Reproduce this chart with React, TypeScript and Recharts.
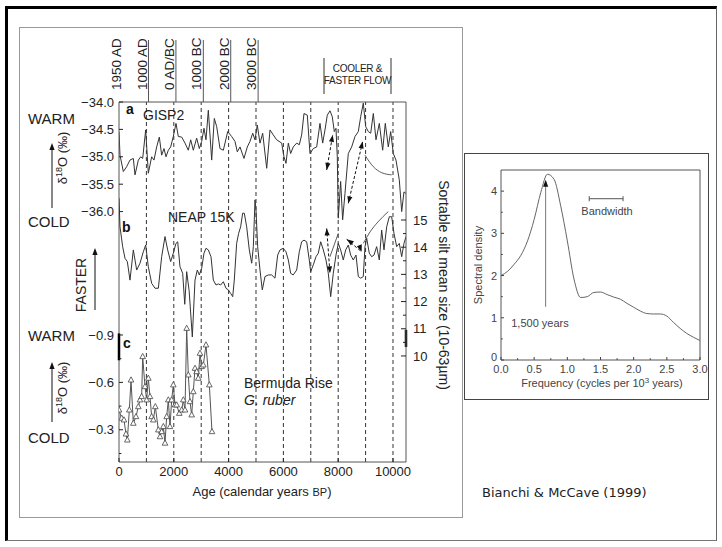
import {
  ComposedChart,
  LineChart,
  Line,
  XAxis,
  YAxis,
  ReferenceLine,
  ReferenceDot,
} from "recharts";

const W = 722;
const H = 547;
const FONT = '"Liberation Sans", Arial, Helvetica, sans-serif';
const INK = "#222";
const AXIS = "#555";

// plot box of the core panel, in page pixels
const PL = 119;
const PR = 406;
const PT = 102;
const PB = 462;

// a: GISP2 ice core δ18O (‰) against age (calendar years BP)
const gispAge = [
  0, 36, 158, 280, 400, 523, 584, 706, 792, 864, 974, 1070, 1192, 1277, 1375,
  1472, 1557, 1642, 1715, 1800, 1886, 1982, 2080, 2165, 2288, 2409, 2529, 2617,
  2712, 2835, 2931, 3017, 3102, 3175, 3260, 3383, 3478, 3566, 3686, 3808, 3967,
  4112, 4234, 4318, 4416, 4562, 4683, 4781, 4880, 4964, 5047, 5146, 5244, 5391,
  5511, 5631, 5755, 5937, 6022, 6095, 6180, 6265, 6360, 6485, 6580, 6667, 6752,
  6873, 6971, 7091, 7215, 7336, 7434, 7518, 7602, 7701, 7785, 7858, 7920, 7967,
  8004, 8090, 8163, 8248, 8369, 8492, 8613, 8734, 8821, 8916, 9004, 9100, 9186,
  9282, 9380, 9501, 9624, 9719, 9829, 9916, 10011, 10109, 10230, 10318, 10401,
  10474,
];
const gispD18O = [
  -34.54, -34.97, -35.27, -35.18, -35.06, -35.03, -35.33, -35.06, -35.0, -35.03,
  -34.51, -35.3, -35.0, -35.06, -34.82, -34.64, -34.97, -34.85, -35.0, -34.88,
  -34.82, -34.63, -34.39, -34.63, -34.64, -34.75, -34.88, -34.69, -34.88, -34.66,
  -34.85, -34.72, -34.48, -34.69, -34.15, -35.06, -34.3, -34.45, -34.85, -34.88,
  -34.54, -34.63, -34.72, -34.91, -34.82, -35.03, -34.82, -34.72, -34.57, -34.69,
  -34.42, -34.75, -34.57, -35.21, -34.51, -34.6, -34.69, -34.75, -35.0, -35.12,
  -34.75, -34.94, -34.82, -34.75, -34.78, -34.6, -34.21, -34.24, -34.94, -34.85,
  -34.82, -34.39, -34.75, -34.51, -34.24, -34.16, -34.27, -34.54, -34.48, -35.0,
  -36.12, -35.45, -36.15, -35.67, -34.94, -34.82, -34.63, -34.54, -34.27, -34.02,
  -34.45, -34.54, -34.57, -34.21, -34.69, -34.39, -34.88, -34.39, -34.82, -34.54,
  -34.94, -35.06, -35.42, -36.0, -35.64, -35.67,
];

// b: NEAP 15K sortable silt mean size (µm)
const neapAge = [
  0, 36, 134, 219, 304, 401, 523, 645, 766, 887, 974, 1070, 1192, 1314, 1436,
  1557, 1679, 1776, 1886, 1982, 2080, 2142, 2226, 2324, 2400, 2470, 2560, 2676,
  2774, 2858, 2931, 3017, 3102, 3175, 3260, 3358, 3443, 3540, 3625, 3711, 3808,
  3905, 3990, 4076, 4150, 4208, 4294, 4367, 4440, 4513, 4574, 4660, 4756, 4843,
  4903, 4964, 5000, 5061, 5146, 5230, 5328, 5450, 5572, 5693, 5791, 5876, 5996,
  6095, 6180, 6265, 6360, 6485, 6580, 6667, 6752, 6850, 6945, 6996, 7091, 7190,
  7274, 7361, 7458, 7555, 7639, 7726, 7821, 7920, 8004, 8090, 8186, 8273, 8369,
  8456, 8551, 8650, 8734, 8821, 8916, 8978, 9040, 9135, 9222, 9307, 9404, 9501,
  9587, 9672, 9770, 9865, 9953, 10036, 10135, 10230, 10318, 10401, 10474,
];
const neapSilt = [
  15.8, 14.75, 14.02, 13.59, 13.47, 12.79, 13.9, 13.16, 13.41, 13.83, 14.08,
  13.28, 12.67, 12.49, 12.49, 13.65, 14.39, 13.9, 13.47, 13.78, 14.14, 14.2,
  13.28, 13.04, 11.9, 13.1, 12.4, 10.7, 12.79, 13.16, 12.98, 13.22, 13.78, 13.96,
  13.9, 13.65, 12.79, 12.61, 12.65, 12.61, 12.73, 12.49, 12.43, 12.3, 12.18,
  12.79, 14.14, 14.51, 14.75, 15.25, 15.25, 14.75, 13.9, 13.41, 14.02, 15.74,
  15.37, 14.02, 13.16, 12.43, 12.92, 12.98, 12.98, 12.86, 13.71, 13.9, 13.96,
  13.83, 13.53, 13.04, 12.98, 13.16, 13.83, 14.2, 14.26, 14.2, 13.53, 13.1, 13.35,
  13.65, 13.78, 14.2, 13.9, 13.53, 13.04, 12.18, 13.04, 13.71, 14.14, 13.9, 13.53,
  13.9, 14.08, 13.71, 13.53, 13.71, 12.92, 12.86, 12.92, 14.02, 14.33, 13.78,
  13.65, 13.71, 14.02, 13.53, 14.63, 13.9, 14.75, 15.12, 15.12, 14.51, 14.02,
  14.14, 13.65, 14.14, 14.39,
];

// c: Bermuda Rise G. ruber δ18O (‰)
const bermAge = [
  0, 97, 182, 255, 304, 377, 438, 523, 620, 706, 766, 827, 864, 949, 1010, 1070,
  1131, 1192, 1253, 1326, 1436, 1496, 1557, 1618, 1679, 1740, 1800, 1861, 1922,
  1982, 2044, 2105, 2201, 2288, 2347, 2409, 2470, 2530, 2591, 2653, 2712, 2774,
  2835, 2894, 2956, 3017, 3077, 3175, 3297, 3394,
];
const bermD18O = [
  -0.425, -0.373, -0.362, -0.273, -0.235, -0.425, -0.615, -0.341, -0.383,
  -0.446, -0.489, -0.51, -0.763, -0.573, -0.489, -0.626, -0.51, -0.383, -0.362,
  -0.446, -0.299, -0.256, -0.288, -0.32, -0.215, -0.383, -0.489, -0.32, -0.489,
  -0.584, -0.457, -0.457, -0.404, -0.425, -0.489, -0.425, -0.942, -0.647,
  -0.478, -0.394, -0.541, -0.689, -0.668, -0.626, -0.784, -0.7, -0.71, -0.837,
  -0.584, -0.288,
];

// smooth trend curves sketched over the 8-10 ka interval
const gispTrendAge = [8978, 9281, 9588, 9953];
const gispTrendVal = [-34.97, -35.18, -35.29, -35.33];
const siltTrendAge = [8916, 9161, 9453, 9828];
const siltTrendVal = [14.14, 14.56, 14.93, 15.31];
const siltStubAge = [7700, 8004];
const siltStubVal = [13.65, 14.51];

// spectrum of the combined record
const freq = [
  0, 0.1, 0.2, 0.3, 0.4, 0.5, 0.6, 0.7, 0.8, 0.9, 1.0, 1.1, 1.2, 1.3, 1.4, 1.5,
  1.6, 1.7, 1.8, 1.9, 2.0, 2.1, 2.2, 2.3, 2.4, 2.5, 2.6, 2.7, 2.8, 2.9, 3.0,
];
const density = [
  2.0, 2.1, 2.27, 2.48, 2.82, 3.33, 3.97, 4.4, 4.28, 3.65, 2.82, 1.92, 1.48, 1.5,
  1.6, 1.61, 1.55, 1.49, 1.44, 1.34, 1.25, 1.16, 1.1, 1.09, 1.09, 1.04, 0.89,
  0.75, 0.63, 0.54, 0.46,
];

// axis ticks and labels
const ageTicks = [0, 2000, 4000, 6000, 8000, 10000];
const ageLines = [1000, 2000, 3000, 4000, 5000, 6000, 7000, 8000, 9000, 10000];
const calAges = [0, 950, 1950, 2950, 3950, 4950];
const calLabels = ["1950 AD", "1000 AD", "0 AD/BC", "1000 BC", "2000 BC", "3000 BC"];
const gispTicks = [-36, -35.5, -35, -34.5, -34];
const siltTicks = [10, 10.5, 11, 11.5, 12, 12.5, 13, 13.5, 14, 14.5, 15];
const bermTicks = [-0.9, -0.75, -0.6, -0.45, -0.3, -0.15];
const freqTicks = [0, 0.25, 0.5, 0.75, 1, 1.25, 1.5, 1.75, 2, 2.25, 2.5, 2.75, 3];
const densTicks = [0, 0.5, 1, 1.5, 2, 2.5, 3, 3.5, 4];

const AGE_DOMAIN: [number, number] = [0, 10475];
const GISP_DOMAIN: [number, number] = [-40.57, -34];
const SILT_DOMAIN: [number, number] = [6.1, 19.34];
const BERM_DOMAIN: [number, number] = [-2.375, -0.096];

const pairs = (xs: number[], ys: number[]) => xs.map((age, i) => ({ age, v: ys[i] }));
const gisp = pairs(gispAge, gispD18O);
const neap = pairs(neapAge, neapSilt);
const berm = pairs(bermAge, bermD18O);
const gispTrend = pairs(gispTrendAge, gispTrendVal);
const siltTrend = pairs(siltTrendAge, siltTrendVal);
const siltStub = pairs(siltStubAge, siltStubVal);
const spectrum = freq.map((f, i) => ({ f, d: density[i] }));

const minus = (v: number, d: number) => (v < 0 ? "\u2212" : "") + Math.abs(v).toFixed(d);

type TickSpec = {
  side: "left" | "right" | "bottom";
  gap: number;
  len: number;
  size: number;
  color: string;
  shift?: number;
  label: (v: number) => string | null;
};

// ticks point into the plot, labels stay outside
const inwardTick = (s: TickSpec) => (p: any) => {
  const v: number = p.payload.value;
  const txt = s.label(v);
  const len = txt === null ? s.len * 0.6 : s.len;
  const t = { fontSize: s.size, fill: s.color, fontFamily: FONT };
  const sh = s.shift ?? 0;
  if (s.side === "left") {
    const ax = p.x + s.gap;
    return (
      <g>
        <line x1={ax} x2={ax + len} y1={p.y} y2={p.y} stroke={s.color} />
        {txt !== null && (
          <text x={p.x} y={p.y + (v === 0 ? sh : 0)} dy="0.36em" textAnchor="end" {...t}>
            {txt}
          </text>
        )}
      </g>
    );
  }
  if (s.side === "right") {
    const ax = p.x - s.gap;
    return (
      <g>
        <line x1={ax} x2={ax - len} y1={p.y} y2={p.y} stroke={s.color} />
        {txt !== null && (
          <text x={p.x} y={p.y} dy="0.36em" textAnchor="start" {...t}>
            {txt}
          </text>
        )}
      </g>
    );
  }
  const ay = p.y - s.gap;
  return (
    <g>
      <line x1={p.x} x2={p.x} y1={ay} y2={ay - len} stroke={s.color} />
      {txt !== null && (
        <text x={p.x} y={p.y + sh} dy="0.8em" textAnchor="middle" {...t}>
          {txt}
        </text>
      )}
    </g>
  );
};

const gispTick = inwardTick({ side: "left", gap: 5, len: 4, size: 13, color: INK, label: (v) => minus(v, 1) });
const bermTick = inwardTick({
  side: "left",
  gap: 5,
  len: 4,
  size: 13,
  color: INK,
  label: (v) => (Math.round(v * 100) % 30 === 0 ? minus(v, 1) : null),
});
const siltTick = inwardTick({
  side: "right",
  gap: 7,
  len: 5,
  size: 13,
  color: INK,
  label: (v) => (Number.isInteger(v) ? String(v) : null),
});
const ageTick = inwardTick({ side: "bottom", gap: 4, len: 4, size: 13, color: INK, label: (v) => String(v) });
const freqTick = inwardTick({
  side: "bottom",
  gap: 3,
  len: 3,
  size: 11,
  color: "#444",
  shift: 1,
  label: (v) => (Math.round(v * 100) % 50 === 0 ? v.toFixed(1) : null),
});
const densTick = inwardTick({
  side: "left",
  gap: 4,
  len: 3,
  size: 11,
  color: "#444",
  shift: -3,
  label: (v) => (Number.isInteger(v) ? String(v) : null),
});

// calendar ages written up along the top edge, each with its own short rule
const calendarMark = (i: number) => (p: any) => (
  <g>
    {i > 0 && <line x1={p.cx + 3.5} x2={p.cx + 3.5} y1={p.cy} y2={p.cy - 62} stroke="#555" />}
    <text
      transform={`translate(${p.cx + 1.5},${p.cy - 12}) rotate(-90)`}
      fontSize={13.5}
      fill={INK}
      fontFamily={FONT}
    >
      {calLabels[i]}
    </text>
  </g>
);

const head = (deg: number) => (p: any) => (
  <polygon
    points="0,0 -2.6,7 2.6,7"
    fill="#111"
    transform={`translate(${p.cx},${p.cy}) rotate(${deg})`}
  />
);

const Triangle = (p: any) => (
  <polygon
    key={p.index}
    points={`${p.cx},${p.cy - 3.2} ${p.cx - 2.8},${p.cy + 2} ${p.cx + 2.8},${p.cy + 2}`}
    fill="#fff"
    stroke="#444"
    strokeWidth={0.8}
  />
);

const layer: React.CSSProperties = { position: "absolute", left: 0, top: 0 };
const dashed = { stroke: "#111", strokeDasharray: "3 2", ifOverflow: "visible" as const };

export default function App() {
  return (
    <div
      style={{
        position: "absolute",
        left: 0,
        top: 0,
        width: W,
        height: H,
        background: "#fff",
        overflow: "hidden",
        fontFamily: FONT,
      }}
    >
      <div
        style={{
          position: "absolute",
          left: 5,
          top: 6,
          width: 712,
          height: 535,
          boxSizing: "border-box",
          borderTop: "3px solid #000",
          borderLeft: "3px solid #000",
          borderRight: "1px solid #666",
          borderBottom: "1px solid #777",
        }}
      />
      <div
        style={{
          position: "absolute",
          left: 19,
          top: 27,
          width: 444,
          height: 491,
          boxSizing: "border-box",
          border: "1px solid #999",
        }}
      />
      <div
        style={{
          position: "absolute",
          left: 464,
          top: 153,
          width: 245,
          height: 247,
          boxSizing: "border-box",
          border: "1px solid #444",
        }}
      />

      {/* a: GISP2 */}
      <div style={layer}>
        <ComposedChart width={W} height={H} margin={{ top: PT, right: W - PR, bottom: H - PB, left: PL - 40 }}>
          <XAxis xAxisId="age" type="number" dataKey="age" domain={AGE_DOMAIN} hide allowDataOverflow />
          <YAxis
            yAxisId="a"
            type="number"
            width={40}
            domain={GISP_DOMAIN}
            ticks={gispTicks}
            interval={0}
            tickSize={0}
            tickMargin={5}
            tickLine={false}
            axisLine={{ stroke: AXIS }}
            tick={gispTick}
            allowDataOverflow
          />
          {ageLines.map((x) => (
            <ReferenceLine key={x} xAxisId="age" yAxisId="a" x={x} stroke="#333" strokeDasharray="4 3" />
          ))}
          <ReferenceLine xAxisId="age" yAxisId="a" y={-34} stroke={AXIS} />
          {calAges.map((age, i) => (
            <ReferenceDot
              key={age}
              xAxisId="age"
              yAxisId="a"
              x={age}
              y={-34}
              ifOverflow="visible"
              shape={calendarMark(i)}
            />
          ))}
          <Line
            xAxisId="age"
            yAxisId="a"
            data={gisp}
            dataKey="v"
            type="linear"
            stroke="#333"
            strokeWidth={1}
            dot={false}
            isAnimationActive={false}
          />
          <Line
            xAxisId="age"
            yAxisId="a"
            data={gispTrend}
            dataKey="v"
            type="monotone"
            stroke="#333"
            strokeWidth={0.8}
            dot={false}
            isAnimationActive={false}
          />
          <ReferenceLine xAxisId="age" yAxisId="a" segment={[{ x: 7580, y: -35.24 }, { x: 7800, y: -34.6 }]} {...dashed} />
          <ReferenceDot xAxisId="age" yAxisId="a" x={7800} y={-34.6} ifOverflow="visible" shape={head(10)} />
          <ReferenceDot xAxisId="age" yAxisId="a" x={7580} y={-35.24} ifOverflow="visible" shape={head(190)} />
          <ReferenceLine xAxisId="age" yAxisId="a" segment={[{ x: 8369, y: -35.85 }, { x: 8894, y: -34.72 }]} {...dashed} />
          <ReferenceDot xAxisId="age" yAxisId="a" x={8894} y={-34.72} ifOverflow="visible" shape={head(13)} />
          <ReferenceDot xAxisId="age" yAxisId="a" x={8369} y={-35.85} ifOverflow="visible" shape={head(193)} />
        </ComposedChart>
      </div>

      {/* b: NEAP 15K sortable silt */}
      <div style={layer}>
        <ComposedChart width={W} height={H} margin={{ top: PT, right: W - PR - 30, bottom: H - PB, left: PL }}>
          <XAxis xAxisId="age" type="number" dataKey="age" domain={AGE_DOMAIN} hide allowDataOverflow />
          <YAxis
            yAxisId="s"
            orientation="right"
            type="number"
            width={30}
            domain={SILT_DOMAIN}
            ticks={siltTicks}
            interval={0}
            tickSize={0}
            tickMargin={7}
            tickLine={false}
            axisLine={{ stroke: AXIS }}
            tick={siltTick}
            allowDataOverflow
          />
          <ReferenceLine
            xAxisId="age"
            yAxisId="s"
            segment={[{ x: 10475, y: 10.96 }, { x: 10475, y: 10.33 }]}
            stroke="#000"
            strokeWidth={2.5}
            ifOverflow="visible"
          />
          <Line
            xAxisId="age"
            yAxisId="s"
            data={neap}
            dataKey="v"
            type="linear"
            stroke="#333"
            strokeWidth={1}
            dot={false}
            isAnimationActive={false}
          />
          <Line
            xAxisId="age"
            yAxisId="s"
            data={siltTrend}
            dataKey="v"
            type="monotone"
            stroke="#333"
            strokeWidth={0.8}
            dot={false}
            isAnimationActive={false}
          />
          <Line
            xAxisId="age"
            yAxisId="s"
            data={siltStub}
            dataKey="v"
            type="linear"
            stroke="#333"
            strokeWidth={0.8}
            dot={false}
            isAnimationActive={false}
          />
          <ReferenceLine xAxisId="age" yAxisId="s" segment={[{ x: 7580, y: 14.69 }, { x: 7700, y: 13.04 }]} {...dashed} />
          <ReferenceDot xAxisId="age" yAxisId="s" x={7580} y={14.69} ifOverflow="visible" shape={head(-4)} />
          <ReferenceDot xAxisId="age" yAxisId="s" x={7700} y={13.04} ifOverflow="visible" shape={head(176)} />
          <ReferenceLine xAxisId="age" yAxisId="s" segment={[{ x: 8310, y: 14.29 }, { x: 8858, y: 13.83 }]} {...dashed} />
          <ReferenceDot xAxisId="age" yAxisId="s" x={8310} y={14.29} ifOverflow="visible" shape={head(-55)} />
          <ReferenceDot xAxisId="age" yAxisId="s" x={8858} y={13.83} ifOverflow="visible" shape={head(160)} />
        </ComposedChart>
      </div>

      {/* c: Bermuda Rise */}
      <div style={layer}>
        <ComposedChart width={W} height={H} margin={{ top: PT, right: W - PR, bottom: H - PB - 30, left: PL - 40 }}>
          <XAxis
            xAxisId="age"
            type="number"
            dataKey="age"
            domain={AGE_DOMAIN}
            height={30}
            ticks={ageTicks}
            interval={0}
            tickSize={0}
            tickMargin={4}
            tickLine={false}
            axisLine={{ stroke: AXIS }}
            tick={ageTick}
            allowDataOverflow
          />
          <YAxis
            yAxisId="c"
            type="number"
            width={40}
            reversed
            domain={BERM_DOMAIN}
            ticks={bermTicks}
            interval={0}
            tickSize={0}
            tickMargin={5}
            tickLine={false}
            axisLine={false}
            tick={bermTick}
            allowDataOverflow
          />
          <ReferenceLine
            xAxisId="age"
            yAxisId="c"
            segment={[{ x: 0, y: -0.91 }, { x: 0, y: -0.74 }]}
            stroke="#000"
            strokeWidth={2.5}
            ifOverflow="visible"
          />
          <Line
            xAxisId="age"
            yAxisId="c"
            data={berm}
            dataKey="v"
            type="linear"
            stroke="#555"
            strokeWidth={1}
            dot={Triangle}
            isAnimationActive={false}
          />
        </ComposedChart>
      </div>

      {/* spectrum */}
      <div style={layer}>
        <LineChart width={W} height={H} data={spectrum} margin={{ top: 170, right: W - 700, bottom: H - 360 - 20, left: 501 - 20 }}>
          <XAxis
            type="number"
            dataKey="f"
            domain={[0, 3]}
            height={20}
            ticks={freqTicks}
            interval={0}
            tickSize={0}
            tickMargin={3}
            tickLine={false}
            axisLine={{ stroke: AXIS }}
            tick={freqTick}
            allowDataOverflow
          />
          <YAxis
            type="number"
            width={20}
            domain={[0, 4.5]}
            ticks={densTicks}
            interval={0}
            tickSize={0}
            tickMargin={4}
            tickLine={false}
            axisLine={{ stroke: AXIS }}
            tick={densTick}
            allowDataOverflow
          />
          <ReferenceLine y={4.5} stroke={AXIS} />
          <ReferenceLine x={3} stroke={AXIS} />
          <Line dataKey="d" type="monotone" stroke="#666" strokeWidth={1} dot={false} isAnimationActive={false} />
          <ReferenceLine segment={[{ x: 0.673, y: 1.26 }, { x: 0.673, y: 4.15 }]} stroke="#777" />
          <ReferenceDot x={0.673} y={4.27} ifOverflow="visible" shape={head(0)} />
          <ReferenceLine segment={[{ x: 1.33, y: 3.82 }, { x: 1.84, y: 3.82 }]} stroke="#555" />
          <ReferenceLine segment={[{ x: 1.33, y: 3.76 }, { x: 1.33, y: 3.88 }]} stroke="#555" />
          <ReferenceLine segment={[{ x: 1.84, y: 3.76 }, { x: 1.84, y: 3.88 }]} stroke="#555" />
        </LineChart>
      </div>

      {/* annotations */}
      <svg width={W} height={H} style={layer} fontFamily={FONT}>
        <g fill={INK} fontSize={15}>
          <text x={28} y={124}>WARM</text>
          <text x={28} y={227}>COLD</text>
          <text x={28} y={341}>WARM</text>
          <text x={28} y={443}>COLD</text>
        </g>
        <g stroke="#111" strokeWidth={1}>
          <line x1={52} x2={52} y1={208} y2={148} />
          <line x1={52} x2={52} y1={422} y2={367} />
          <line x1={95} x2={95} y1={310} y2={253} />
        </g>
        <g fill="#111">
          <polygon points="52,143 49.4,150 54.6,150" />
          <polygon points="52,362 49.4,369 54.6,369" />
          <polygon points="95,248 92.4,255 97.6,255" />
        </g>
        {[158, 388].map((cy) => (
          <text key={cy} transform={`translate(67,${cy}) rotate(-90)`} textAnchor="middle" fontSize={13} fill={INK}>
            δ
            <tspan dy={-5} fontSize={9}>
              18
            </tspan>
            <tspan dy={5}>O (‰)</tspan>
          </text>
        ))}
        <text transform="translate(86,285) rotate(-90)" textAnchor="middle" fontSize={14} fill={INK}>
          FASTER
        </text>

        <g fill="#111" fontWeight="bold" fontSize={14}>
          <text x={126} y={114}>a</text>
          <text x={122} y={232}>b</text>
          <text x={123} y={348}>c</text>
        </g>
        <g fill={INK} fontSize={14}>
          <text x={143} y={120}>GISP2</text>
          <text x={168} y={222}>NEAP 15K</text>
          <text x={244} y={388}>Bermuda Rise</text>
          <text x={244} y={405} fontStyle="italic">
            G. ruber
          </text>
        </g>

        <g stroke="#333">
          <line x1={324} x2={324} y1={58} y2={94} />
          <line x1={391} x2={391} y1={58} y2={94} />
        </g>
        <g fill={INK} fontSize={10} textAnchor="middle" letterSpacing={-0.3}>
          <text x={357.5} y={72}>COOLER &amp;</text>
          <text x={357.5} y={84}>FASTER FLOW</text>
        </g>

        <text transform="translate(439,285) rotate(90)" textAnchor="middle" fontSize={14} fill={INK}>
          Sortable silt mean size (10-63µm)
        </text>
        <text x={262} y={496} textAnchor="middle" fontSize={13} fill={INK}>
          Age (calendar years <tspan fontSize={11}>BP</tspan>)
        </text>

        <g fill="#444" fontSize={11}>
          <text transform="translate(482,265) rotate(-90)" textAnchor="middle">
            Spectral density
          </text>
          <text x={602} y={387} textAnchor="middle">
            Frequency (cycles per 10
            <tspan dy={-4} fontSize={8}>
              3
            </tspan>
            <tspan dy={4}> years)</tspan>
          </text>
          <text x={540} y={327} textAnchor="middle">
            1,500 years
          </text>
          <text x={607} y={215} textAnchor="middle">
            Bandwidth
          </text>
        </g>

        <text x={482} y={497} fontSize={13} fill={INK} fontFamily="DejaVu Sans">
          Bianchi &amp; McCave (1999)
        </text>
      </svg>
    </div>
  );
}
